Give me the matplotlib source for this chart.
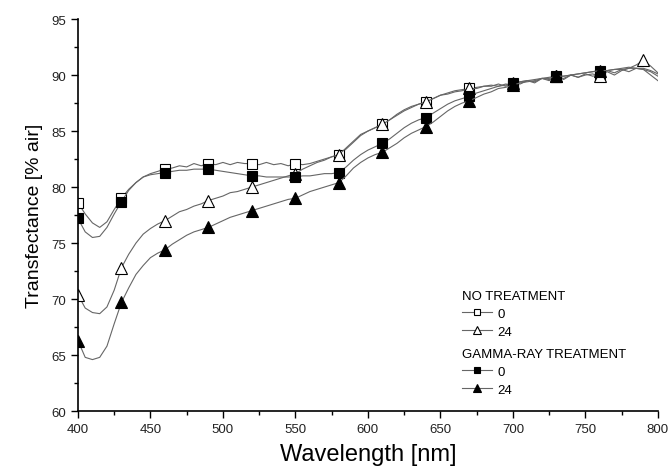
import matplotlib
matplotlib.use('Agg')
import matplotlib.pyplot as plt
import numpy as np

plt.rcParams['font.family'] = ['Liberation Sans', 'DejaVu Sans']

# wavelength grid (nm), 5 nm steps
wavelength = np.arange(400, 805, 5)

# NO TREATMENT, 0 (open squares)
no_treat_0 = [78.6, 77.6, 76.8, 76.4, 76.9, 78.0, 79.0, 79.8, 80.4, 80.9,
              81.2, 81.4, 81.6, 81.7, 81.9, 81.8, 82.1, 81.9, 82.1, 82.0,
              82.2, 82.0, 82.2, 82.1, 82.1, 82.0, 82.2, 82.0, 82.1, 81.9,
              82.1, 82.0, 82.1, 82.3, 82.5, 82.7, 82.9, 83.4, 84.0, 84.6,
              85.0, 85.3, 85.6, 86.0, 86.5, 86.9, 87.2, 87.4, 87.6, 87.9,
              88.2, 88.4, 88.6, 88.7, 88.8, 88.9, 89.0, 89.1, 89.0, 89.2,
              89.1, 89.4, 89.5, 89.4, 89.7, 89.6, 89.8, 89.7, 90.0, 89.8,
              90.1, 89.9, 90.0, 90.4, 90.2, 90.5, 90.3, 90.6, 90.5, 90.3,
              89.9]

# NO TREATMENT, 24 (open triangles)
no_treat_24 = [70.4, 69.2, 68.8, 68.7, 69.3, 70.8, 72.8, 74.0, 75.0, 75.8,
               76.3, 76.7, 77.0, 77.4, 77.8, 78.0, 78.3, 78.5, 78.8, 79.0,
               79.2, 79.5, 79.6, 79.8, 80.0, 80.2, 80.4, 80.6, 80.8, 81.0,
               81.2, 81.6, 81.9, 82.2, 82.4, 82.7, 82.9, 83.5, 84.1, 84.7,
               85.0, 85.3, 85.6, 86.0, 86.4, 86.8, 87.1, 87.4, 87.6, 87.9,
               88.2, 88.3, 88.5, 88.6, 88.8, 88.8, 89.0, 89.0, 89.2, 89.0,
               89.3, 89.2, 89.5, 89.3, 89.7, 89.5, 89.9, 89.6, 90.0, 89.8,
               90.0, 90.1, 89.9, 90.3, 90.0, 90.4, 90.6, 90.9, 91.3, 90.8,
               90.2]

# GAMMA-RAY TREATMENT, 0 (filled squares)
gamma_0 = [77.2, 76.0, 75.5, 75.6, 76.4, 77.6, 78.7, 79.7, 80.4, 80.9,
           81.1, 81.2, 81.3, 81.4, 81.5, 81.5, 81.6, 81.6, 81.6, 81.5,
           81.4, 81.3, 81.2, 81.1, 81.0, 81.0, 80.9, 80.9, 80.9, 80.9,
           80.9, 81.0, 81.0, 81.1, 81.2, 81.2, 81.3, 81.8, 82.4, 82.9,
           83.3, 83.6, 83.9, 84.3, 84.8, 85.3, 85.7, 86.0, 86.2, 86.6,
           87.0, 87.4, 87.7, 87.9, 88.1, 88.4, 88.6, 88.8, 89.0, 89.1,
           89.3, 89.4, 89.5, 89.6, 89.7, 89.8, 89.9, 89.9, 90.0, 90.1,
           90.2, 90.3, 90.4, 90.4, 90.5, 90.5, 90.6, 90.6, 90.6, 90.4,
           90.1]

# GAMMA-RAY TREATMENT, 24 (filled triangles)
gamma_24 = [66.3, 64.8, 64.6, 64.8, 65.8, 67.8, 69.7, 71.0, 72.2, 73.0,
            73.7, 74.1, 74.4, 74.9, 75.3, 75.7, 76.0, 76.2, 76.4, 76.7,
            77.0, 77.3, 77.5, 77.7, 77.9, 78.1, 78.3, 78.5, 78.7, 78.9,
            79.0, 79.3, 79.6, 79.8, 80.0, 80.2, 80.4, 81.0, 81.7, 82.2,
            82.6, 82.9, 83.1, 83.5, 83.9, 84.4, 84.8, 85.1, 85.4, 85.8,
            86.3, 86.8, 87.2, 87.5, 87.7, 88.0, 88.3, 88.5, 88.8, 88.9,
            89.1, 89.3, 89.4, 89.5, 89.7, 89.7, 89.9, 89.9, 90.0, 90.1,
            90.2, 90.3, 90.4, 90.4, 90.5, 90.6, 90.7, 90.6, 90.5, 90.0,
            89.5]

fig = plt.figure(figsize=(6.72, 4.77), dpi=100)
ax = fig.add_axes([0.116, 0.136, 0.863, 0.822])

line_kw = dict(color='#666666', linewidth=0.8, markeredgecolor='black',
               markeredgewidth=0.8)

l_a, = ax.plot(wavelength, no_treat_0, marker='s', markerfacecolor='white',
               markersize=7, markevery=slice(0, 73, 6), label='0', **line_kw)
l_c, = ax.plot(wavelength, no_treat_24, marker='^', markerfacecolor='white',
               markersize=8, markevery=slice(0, 79, 6), label='24', **line_kw)
l_b, = ax.plot(wavelength, gamma_0, marker='s', markerfacecolor='black',
               markersize=7, markevery=slice(0, 73, 6), label='0', **line_kw)
l_d, = ax.plot(wavelength, gamma_24, marker='^', markerfacecolor='black',
               markersize=8, markevery=slice(0, 73, 6), label='24', **line_kw)

ax.set_xlim(400, 800)
ax.set_ylim(60, 95)
ax.set_xticks(np.arange(400, 801, 50))
ax.set_xticks(np.arange(425, 800, 50), minor=True)
ax.set_yticks(np.arange(60, 96, 5))
ax.set_yticks(np.arange(62.5, 95, 5), minor=True)
ax.tick_params(which='major', direction='out', length=5, width=1,
               labelsize=9.5, labelcolor='#222222')
ax.tick_params(which='minor', direction='out', length=3, width=1)

for side in ['top', 'right']:
    ax.spines[side].set_visible(False)
for side in ['left', 'bottom']:
    ax.spines[side].set_linewidth(1.2)

ax.set_xlabel('Wavelength [nm]', fontsize=17, labelpad=6)
ax.set_ylabel('Transfectance [% air]', fontsize=14, labelpad=6)

leg_kw = dict(loc='upper left', frameon=False, fontsize=9.5, title_fontsize=9.5,
              alignment='left', borderpad=0, borderaxespad=0, handlelength=2.3,
              handletextpad=0.4, labelspacing=0.45, markerscale=0.7)
leg1 = ax.legend(handles=[l_a, l_c], labels=['0', '24'], title='NO TREATMENT',
                 bbox_to_anchor=(0.662, 0.31), **leg_kw)
ax.add_artist(leg1)
ax.legend(handles=[l_b, l_d], labels=['0', '24'], title='GAMMA-RAY TREATMENT',
          bbox_to_anchor=(0.662, 0.162), **leg_kw)

plt.savefig('out.png', dpi=100)
plt.close(fig)
